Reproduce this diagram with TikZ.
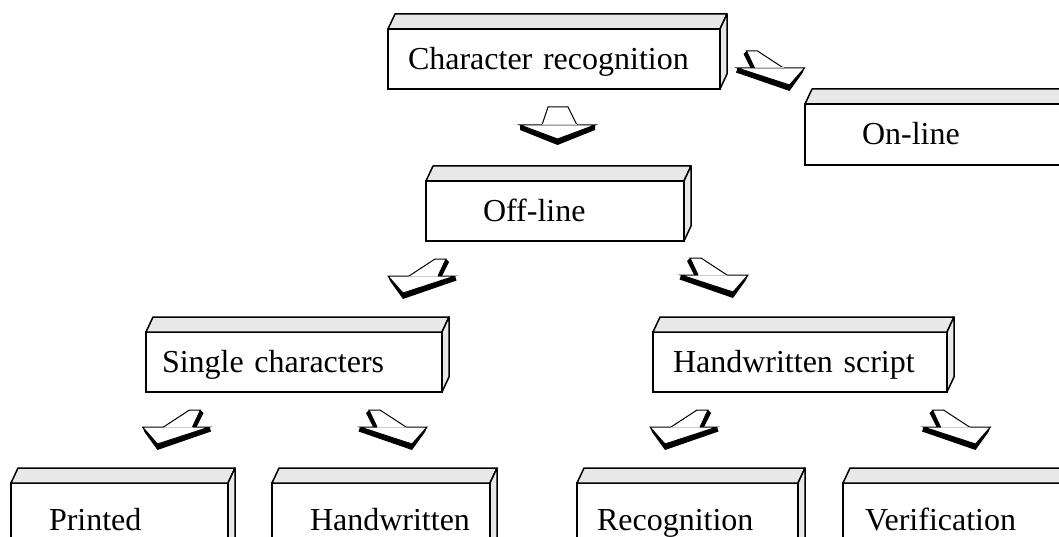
\documentclass[tikz,border=0pt]{standalone}
\usepackage{fontspec}
\setmainfont{Liberation Serif}
\usetikzlibrary{calc}
\tikzset{
  box/.style={draw, fill=white, line width=2pt, outer sep=0pt, inner ysep=0pt,
    minimum height=60pt, anchor=north west, align=left,
    font=\fontsize{32}{38}\selectfont, text height=21pt, text depth=0pt},
  face/.style={draw, fill=gray!18, line width=1.5pt, line join=round},
  arrowline/.style={line width=1pt},
  % flat arrow pointing down-left, seen from above
  ldarrow/.pic={
    \fill (24.5,-17) -- (16.5,0) -- (20.5,0) -- (27.5,-14) -- cycle;
    \fill (-33.5,0) -- (-18.5,17) -- (33.5,0) -- (35,4.5) -- (-18.5,23) -- (-31.5,5) -- cycle;
    \draw[arrowline, fill=white] (-33.5,0) -- (33.5,0) -- (-18.5,17) -- cycle;
    \draw[arrowline, fill=white] (-12.5,0) -- (13.5,-17) -- (24.5,-17) -- (16.5,0);
    \draw[arrowline, gray!40] (-12.5,0) -- (16.5,0);
  },
  rdarrow/.pic={\pic[xscale=-1]{ldarrow};},
  dnarrow/.pic={
    \fill (-37.5,0) -- (0,14) -- (37.5,0) -- (37.5,5) -- (0,20) -- (-37.5,5) -- cycle;
    \draw[arrowline, fill=white] (-37.5,0) -- (37.5,0) -- (0,14) -- cycle;
    \draw[arrowline, fill=white] (-15.5,0) -- (-9.5,-18) -- (10.5,-18) -- (19.5,0);
    \draw[arrowline, gray!40] (-15.5,0) -- (19.5,0);
  },
}
\begin{document}
\begin{tikzpicture}[x=1pt, y=-1pt]
\useasboundingbox (0,0) rectangle (1059,537);
\clip (0,0) rectangle (1059,537);
\fill[white] (0,0) rectangle (1059,537);
%boxes
\node[box, text width=292pt, inner xsep=20pt] (crec) at (388,29) {Character recognition};
\node[box, text width=161pt, inner xsep=57pt, minimum height=61pt] (online) at (805,104) {On-line};
\node[box, text width=144pt, inner xsep=57pt] (offline) at (426,181) {Off-line};
\node[box, text width=264pt, inner xsep=16pt] (single) at (146,332) {Single characters};
\node[box, text width=254pt, inner xsep=20pt] (hscript) at (653,332) {Handwritten script};
\node[box, text width=141pt, inner xsep=38pt, minimum height=73pt] (printed) at (11,483) {Printed};
\node[box, text width=142pt, inner xsep=38pt, minimum height=73pt] (handwr) at (272,483) {Handwritten};
\node[box, text width=181pt, inner xsep=20pt, minimum height=73pt] (recog) at (577,483) {Recognition};
\node[box, text width=193pt, inner xsep=22pt, minimum height=73pt] (verif) at (843,483) {Verification};
%top and side faces
\foreach \n in {crec,online,offline,single,hscript,printed,handwr,recog,verif}{
  \draw[face] (\n.north west) -- ++(7,-15) -- ($(\n.north east)+(7,-15)$) -- (\n.north east) -- cycle;
  \draw[face] (\n.north east) -- ++(7,-15) -- ($(\n.south east)+(7,-15)$) -- (\n.south east) -- cycle;
}
%arrows
\pic at ($(crec.south)+(3.5,36)$) {dnarrow};
\pic at ($(crec.east)+(51,9)$) {rdarrow};
\pic at ($(offline.south)+(-133.5,35)$) {ldarrow};
\pic at ($(offline.south)+(159.5,34)$) {rdarrow};
\pic at ($(single.south)+(-118,35)$) {ldarrow};
\pic at ($(single.south)+(99.5,35)$) {rdarrow};
\pic at ($(hscript.south)+(-116.5,35)$) {ldarrow};
\pic at ($(hscript.south)+(157,35)$) {rdarrow};
\end{tikzpicture}
\end{document}
